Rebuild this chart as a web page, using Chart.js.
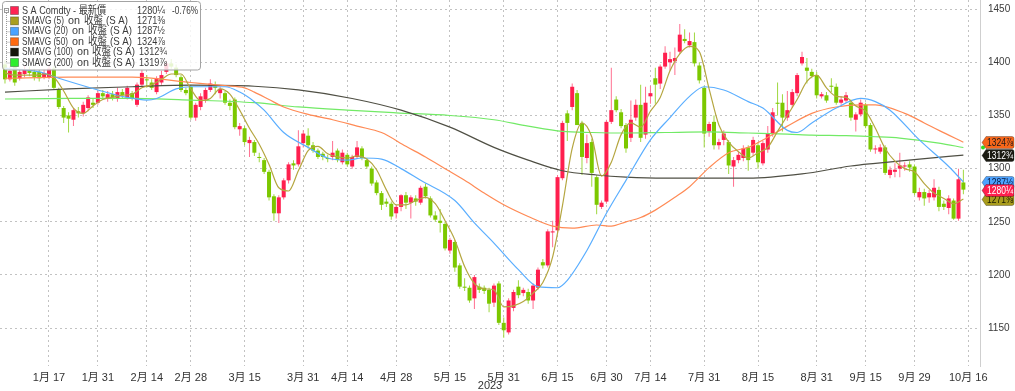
<!DOCTYPE html>
<html>
<head>
<meta charset="utf-8">
<script src="https://cdn.jsdelivr.net/npm/chart.js"></script>
<style>
html,body{margin:0;padding:0;background:#fff;}
#wrap{position:relative;width:1015px;height:391px;}
</style>
</head>
<body>
<div id="wrap"><canvas id="c"></canvas></div>
<script>
// ---------- DATA ----------
const dates = [
 '1/3','1/4','1/5','1/6','1/9','1/10','1/11','1/12','1/13','1/17','1/18','1/19','1/20','1/23','1/24','1/25','1/26','1/27','1/30','1/31',
 '2/1','2/2','2/3','2/6','2/7','2/8','2/9','2/10','2/13','2/14','2/15','2/16','2/17','2/21','2/22','2/23','2/24','2/27','2/28',
 '3/1','3/2','3/3','3/6','3/7','3/8','3/9','3/10','3/13','3/14','3/15','3/16','3/17','3/20','3/21','3/22','3/23','3/24','3/27','3/28','3/29','3/30','3/31',
 '4/3','4/4','4/5','4/6','4/10','4/11','4/12','4/13','4/14','4/17','4/18','4/19','4/20','4/21','4/24','4/25','4/26','4/27','4/28',
 '5/1','5/2','5/3','5/4','5/5','5/8','5/9','5/10','5/11','5/12','5/15','5/16','5/17','5/18','5/19','5/22','5/23','5/24','5/25','5/26','5/30','5/31',
 '6/1','6/2','6/5','6/6','6/7','6/8','6/9','6/12','6/13','6/14','6/15','6/16','6/20','6/21','6/22','6/23','6/26','6/27','6/28','6/29','6/30',
 '7/3','7/5','7/6','7/7','7/10','7/11','7/12','7/13','7/14','7/17','7/18','7/19','7/20','7/21','7/24','7/25','7/26','7/27','7/28','7/31',
 '8/1','8/2','8/3','8/4','8/7','8/8','8/9','8/10','8/11','8/14','8/15','8/16','8/17','8/18','8/21','8/22','8/23','8/24','8/25','8/28','8/29','8/30','8/31',
 '9/1','9/5','9/6','9/7','9/8','9/11','9/12','9/13','9/14','9/15','9/18','9/19','9/20','9/21','9/22','9/25','9/26','9/27','9/28','9/29',
 '10/2','10/3','10/4','10/5','10/6','10/9','10/10','10/11','10/12','10/13','10/16'
];

const open = [
 1398,1384,1396,1385,1389,1393,1391,1391,1386,1386, 1394,1374,1357,1350,1346,1354,1352,1357,1362,1362,
 1371,1366,1370,1366,1372,1367,1371,1360,1379,1384, 1381,1372,1381,1391,1399,1395,1386,1374,1377,1348,
 1358,1365,1374,1378,1371,1371,1362,1365,1337,1338, 1324,1325,1311,1308,1297,1274,1258,1273,1289,1305,
 1304,1324,1331,1322,1317,1314,1310,1311,1317,1306, 1313,1302,1311,1319,1308,1300,1287,1277,1269,1267,
 1258,1264,1275,1268,1272,1268,1283,1272,1256,1251, 1248,1223,1231,1209,1189,1188,1178,1189,1188,1186,
 1174,1192,1155,1146,1169,1189,1183,1184,1176,1188, 1212,1209,1240,1242,1291,1352,1358,1371,1343,1310,
 1325,1292,1264,1269,1344,1365,1353,1341,1329,1348, 1360,1332,1368,1385,1380,1396,1400,1401,1410,1422,
 1416,1419,1397,1376,1335,1344,1322,1327,1325,1302, 1308,1310,1320,1315,1322,1305,1318,1333,1362,1362,
 1348,1360,1371,1399,1395,1391,1388,1368,1369,1378, 1377,1362,1364,1362,1346,1351,1360,1341,1318,1316,
 1320,1294,1297,1300,1302,1304,1302,1273,1278,1273, 1273,1280,1267,1263,1270,1253,1287
];
const high = [
 1402,1396,1399,1394,1397,1396,1394,1393,1394,1398, 1396,1376,1359,1353,1357,1358,1363,1369,1366,1373,
 1374,1373,1373,1376,1375,1378,1373,1381,1393,1388, 1384,1387,1392,1402,1403,1398,1388,1376,1379,1362,
 1371,1376,1384,1382,1377,1373,1365,1367,1343,1340, 1330,1327,1315,1310,1299,1276,1275,1291,1306,1308,
 1336,1336,1338,1325,1319,1316,1313,1326,1319,1318, 1315,1313,1326,1321,1310,1302,1289,1279,1272,1269,
 1266,1276,1278,1275,1275,1284,1286,1274,1260,1262, 1250,1235,1233,1211,1197,1190,1200,1192,1190,1188,
 1192,1194,1160,1178,1186,1195,1188,1187,1192,1207, 1215,1243,1251,1294,1345,1355,1380,1374,1345,1332,
 1328,1294,1270,1346,1395,1368,1356,1343,1364,1365, 1379,1377,1378,1395,1398,1415,1410,1414,1436,1431,
 1428,1428,1400,1378,1344,1350,1328,1336,1327,1311, 1316,1322,1322,1330,1325,1326,1340,1357,1381,1370,
 1373,1375,1390,1410,1404,1394,1391,1372,1372,1385, 1380,1368,1372,1365,1353,1365,1362,1343,1322,1323,
 1322,1302,1305,1315,1306,1307,1304,1282,1281,1280, 1290,1283,1270,1275,1272,1300,1299
];
const low = [
 1380,1382,1378,1383,1386,1387,1383,1382,1384,1384, 1374,1356,1343,1334,1340,1348,1349,1354,1357,1360,
 1365,1363,1364,1363,1366,1365,1364,1358,1377,1376, 1374,1370,1379,1389,1394,1386,1372,1369,1346,1345,
 1355,1362,1372,1370,1366,1360,1355,1337,1331,1322, 1311,1312,1306,1295,1270,1251,1249,1271,1286,1299,
 1302,1320,1319,1315,1309,1308,1306,1308,1306,1304, 1302,1300,1309,1308,1300,1284,1275,1261,1264,1252,
 1253,1260,1262,1253,1265,1266,1272,1254,1250,1240, 1223,1220,1203,1187,1185,1174,1168,1183,1182,1165,
 1170,1153,1141,1144,1166,1178,1180,1173,1168,1186, 1206,1207,1226,1240,1289,1326,1355,1341,1294,1305,
 1283,1257,1262,1267,1342,1353,1338,1315,1325,1345, 1325,1328,1361,1361,1375,1394,1392,1388,1408,1418,
 1414,1396,1380,1320,1330,1318,1318,1322,1295,1283, 1305,1307,1298,1312,1300,1303,1315,1330,1350,1335,
 1345,1357,1368,1397,1380,1385,1366,1366,1362,1372, 1360,1360,1362,1345,1335,1349,1338,1316,1314,1314,
 1294,1291,1292,1292,1298,1297,1275,1270,1265,1268, 1270,1260,1261,1257,1252,1251,1276
];
const close = [
 1384,1392,1381,1391,1393,1390,1386,1385,1390,1394, 1376,1358,1348,1347,1355,1352,1360,1367,1360,1371,
 1368,1370,1367,1372,1369,1376,1366,1379,1390,1383, 1376,1385,1388,1399,1396,1388,1374,1371,1348,1360,
 1368,1374,1380,1376,1375,1362,1359,1339,1340,1325, 1327,1315,1310,1297,1273,1258,1273,1289,1304,1303,
 1321,1333,1322,1317,1311,1311,1309,1315,1308,1315, 1304,1311,1320,1310,1302,1286,1277,1266,1267,1255,
 1264,1275,1268,1273,1269,1282,1274,1256,1252,1249, 1225,1233,1207,1189,1188,1176,1198,1186,1185,1173,
 1190,1155,1148,1176,1184,1181,1186,1176,1190,1205, 1209,1241,1241,1292,1343,1343,1377,1341,1311,1324,
 1296,1266,1268,1344,1355,1355,1340,1319,1346,1360, 1329,1362,1371,1379,1396,1409,1403,1404,1426,1420,
 1420,1399,1383,1333,1342,1322,1325,1333,1303,1308, 1313,1319,1308,1327,1306,1324,1333,1353,1361,1348,
 1355,1372,1388,1405,1392,1387,1369,1370,1364,1377, 1362,1365,1369,1348,1351,1362,1340,1318,1319,1320,
 1296,1299,1299,1303,1303,1301,1277,1278,1272,1277, 1282,1264,1264,1272,1253,1290,1280.25
];

// moving averages (day index, value)
const sma5Days = [0,2,4,6,8,10,12,14,16,18,20,22,24,26,28,30,32,34,36,38,40,42,44,46,48,50,52,54,56,58,60,62,64,66,68,70,72,74,76,78,80,82,84,86,88,90,92,94,96,98,100,102,104,106,108,110,112,114,116,118,120,122,124,126,128,130,132,134,136,138,140,142,144,146,148,150,152,154,156,158,160,162,164,166,168,170,172,174,176,178,180,182,184,186,188,190,192,194,196];
const sma5 = [1390,1388,1388,1388,1389,1386,1373,1357,1352,1359,1365,1367,1369,1370,1376,1379,1384,1389,1389,1375,1364,1366,1375,1370,1355,1338,1323,1304,1282,1279,1298,1317,1321,1314,1311,1310,1312,1309,1299,1280,1266,1266,1270,1273,1267,1251,1233,1208,1192,1187,1186,1170,1171,1175,1183,1193,1217,1265,1319,1343,1330,1293,1306,1332,1343,1339,1354,1367,1392,1408,1415,1410,1375,1341,1325,1316,1310,1315,1320,1335,1350,1365,1382,1388,1376,1368,1367,1359,1354,1338,1319,1307,1300,1297,1286,1277,1272,1267,1271.4];

const sma20Days = [0,7,11,19,25,29,31,35,38,45,48,51,53,57,62,66,70,73,77,81,85,92,96,100,105,109,113,115,119,123,127,132,136,140,143,147,152,155,160,162,165,170,175,178,181,187,193,196];
const sma20 = [1394.5,1391,1385,1374,1367,1364.5,1366,1375,1377,1377,1372,1363,1355,1334,1320,1310,1308,1310,1309,1300,1289,1270,1249,1230,1205,1189,1188,1195,1223,1258,1289,1327,1348,1368,1377,1374,1363,1357,1336,1334,1343,1357,1366,1363,1355,1327,1302,1287.5];

const sma50Days = [0,13,26,38,45,49,51,54,57,62,67,72,77,82,86,90,94,98,102,107,112,116,121,124,127,130,133,137,140,144,148,152,155,160,165,170,175,178,184,188,191,196];
const sma50 = [1385,1386,1386,1381,1378,1376,1372,1365,1358,1351,1346,1340,1334,1321,1311,1300,1289,1277,1266,1255,1246,1244,1247,1246,1250,1254,1261,1273,1283,1301,1315,1320,1327,1340,1352,1358,1360,1360,1352,1343,1336,1324.875];

const sma100Days = [0,13,26,38,51,60,71,81,91,100,107,114,121,127,135,142,152,163,173,178,187,196];
const sma100 = [1372,1375,1377,1378.5,1377.5,1374,1366,1355,1339,1320,1308,1298,1294,1292,1291,1291,1291,1295,1302.5,1305,1309,1312.75];

const sma200Days = [0,13,26,38,51,60,70,80,91,100,107,114,120,127,135,144,152,160,165,172,178,183,191,196];
const sma200 = [1365.5,1366,1366,1364.5,1362,1358,1355,1352.5,1350,1346,1340,1335,1334,1333.5,1334,1334.5,1333.5,1332.5,1331.6,1331,1330,1328.7,1324,1319.875];

const tickDates = ['1/17','1/31','2/14','2/28','3/15','3/31','4/14','4/28','5/15','5/31','6/15','6/30','7/14','7/31','8/15','8/31','9/15','9/29','10/16'];
const tickLabels = ['1月 17','1月 31','2月 14','2月 28','3月 15','3月 31','4月 14','4月 28','5月 15','5月 31','6月 15','6月 30','7月 14','7月 31','8月 15','8月 31','9月 15','9月 29','10月 16'];
const yTicks = [1150,1200,1250,1300,1350,1400,1450];
const yearLabel = '2023';

const legendNames = ['S A Comdty - 最新價','SMAVG (5)','SMAVG (20)','SMAVG (50)','SMAVG (100)','SMAVG (200)'];
const legendValues = ['1280¼','1271⅜','1287½','1324⅞','1312¾','1319⅞'];
const legendChange = '-0.76%';
const legendOn = 'on';
const legendField = '收盤';
const legendTicker = '(S A)';

const tagValues = [1324.875, 1312.75, 1287.5, 1271.375, 1280.25];
const tagTexts  = ['1324⅞','1312¾','1287½','1271⅜','1280¼'];
const sma200Last = 1319.875;

// ---------- STYLE ----------
const RED = '#ff1f4e', GREEN = '#7cc800';
const RED_WICK = '#ff7090', GREEN_WICK = '#9fd840';
const C_SMA5 = '#b5a640', C_SMA20 = '#5aaeff', C_SMA50 = '#ff8a55', C_SMA100 = '#4f4f44', C_SMA200 = '#72ea66';
const legendColors = ['#ff2352','#a99e1f','#4aa3ff','#ff6a10','#16160a','#2eee2e'];
const tagFill = ['#f7661a','#1a1a12','#4da3ff','#a89c1c','#ff1f4e'];
const tagText = ['#1a1a1a','#ffffff','#0a1a40','#1a1a00','#ffffff'];
const NARROW = '"Liberation Sans Narrow","Arial Narrow","Liberation Sans","Noto Sans CJK TC",sans-serif';
const SANS = '"Liberation Sans",Arial,"Noto Sans CJK TC",sans-serif';

const tickIdx = tickDates.map(d => dates.indexOf(d));
const isUp = i => close[i] >= open[i];
const pts = (days, vals) => days.map((d, k) => ({x: d, y: vals[k]}));

const overlay = {
  id: 'overlay',
  afterDraw(chart) {
    const {ctx, chartArea, scales} = chart;
    const y = scales.y;
    ctx.save();
    // year label
    ctx.font = '11px ' + NARROW;
    ctx.fillStyle = '#333';
    ctx.textAlign = 'center';
    ctx.textBaseline = 'middle';
    ctx.fillText(yearLabel, (chartArea.left + chartArea.right) / 2, 386);

    // SMA200 marker
    ctx.fillStyle = '#2edd22';
    ctx.beginPath();
    ctx.arc(chartArea.right + 3, y.getPixelForValue(sma200Last), 2, 0, Math.PI * 2);
    ctx.fill();

    // last-value tags
    const x0 = chartArea.right + 2, x1 = 1014;
    ctx.font = '10.5px ' + NARROW;
    ctx.textAlign = 'left';
    tagValues.forEach((v, k) => {
      const py = Math.round(y.getPixelForValue(v)) + 0.5;
      ctx.beginPath();
      ctx.moveTo(x0, py);
      ctx.lineTo(x0 + 4, py - 6);
      ctx.lineTo(x1 - 2, py - 6);
      ctx.quadraticCurveTo(x1, py - 6, x1, py - 4);
      ctx.lineTo(x1, py + 4);
      ctx.quadraticCurveTo(x1, py + 6, x1 - 2, py + 6);
      ctx.lineTo(x0 + 4, py + 6);
      ctx.closePath();
      ctx.fillStyle = tagFill[k];
      ctx.fill();
      ctx.strokeStyle = 'rgba(0,0,0,0.35)';
      ctx.lineWidth = 0.8;
      ctx.stroke();
      ctx.fillStyle = tagText[k];
      ctx.fillText(tagTexts[k], x0 + 5, py + 0.5, x1 - x0 - 6);
    });

    // legend box
    const bx = 2.5, by = 1.5, bw = 198, bh = 68.5;
    ctx.beginPath();
    ctx.roundRect(bx, by, bw, bh, 3);
    ctx.fillStyle = 'rgba(255,255,255,0.82)';
    ctx.fill();
    ctx.strokeStyle = '#a3a3a3';
    ctx.lineWidth = 1;
    ctx.stroke();

    const rowY = k => 10.5 + k * 10.4;
    // tree connector
    ctx.strokeStyle = '#9a9a9a';
    ctx.setLineDash([1, 1]);
    ctx.beginPath();
    ctx.moveTo(6.5, 13); ctx.lineTo(6.5, rowY(5));
    for (let k = 1; k < legendNames.length; k++) { ctx.moveTo(6.5, rowY(k) + 0.5); ctx.lineTo(10, rowY(k) + 0.5); }
    ctx.stroke();
    ctx.setLineDash([]);
    ctx.fillStyle = '#fff';
    ctx.fillRect(4.5, 8.5, 4, 4);
    ctx.strokeRect(4.5, 8.5, 4, 4);
    ctx.beginPath(); ctx.moveTo(5.5, 10.5); ctx.lineTo(7.5, 10.5); ctx.stroke();

    ctx.font = '11px ' + NARROW;
    ctx.textAlign = 'left';
    ctx.textBaseline = 'middle';
    const onX = [0, 68, 72, 72, 77, 77];
    const fieldX = [0, 84, 88, 88, 92, 92];
    const tickerX = [0, 106, 110, 110, 113, 113];
    const valX = [137, 137, 137, 137, 139, 139];
    legendNames.forEach((name, k) => {
      const cy = rowY(k);
      ctx.fillStyle = legendColors[k];
      ctx.fillRect(10.5, cy - 4, 8, 8);
      ctx.strokeStyle = 'rgba(0,0,0,0.3)';
      ctx.strokeRect(10.5, cy - 4, 8, 8);
      ctx.fillStyle = '#3a3a3a';
      if (k === 0) {
        ctx.fillText(name, 22, cy, 84);
        ctx.fillText(legendChange, 172, cy, 26);
      } else {
        ctx.fillText(name, 22, cy, onX[k] - 26);
        ctx.fillText(legendOn, onX[k], cy, 12);
        ctx.fillText(legendField, fieldX[k], cy, 19);
        ctx.fillText(legendTicker, tickerX[k], cy, 22);
      }
      ctx.fillText(legendValues[k], valX[k], cy, 28);
    });
    ctx.restore();
  }
};

new Chart(document.getElementById('c'), {
  type: 'bar',
  data: {
    datasets: [
      {type: 'line', data: pts(sma5Days, sma5), borderColor: C_SMA5, borderWidth: 1.2, pointRadius: 0, cubicInterpolationMode: 'monotone', order: 1},
      {type: 'line', data: pts(sma20Days, sma20), borderColor: C_SMA20, borderWidth: 1.2, pointRadius: 0, cubicInterpolationMode: 'monotone', order: 1},
      {type: 'line', data: pts(sma50Days, sma50), borderColor: C_SMA50, borderWidth: 1.2, pointRadius: 0, cubicInterpolationMode: 'monotone', order: 1},
      {type: 'line', data: pts(sma100Days, sma100), borderColor: C_SMA100, borderWidth: 1.2, pointRadius: 0, cubicInterpolationMode: 'monotone', order: 1},
      {type: 'line', data: pts(sma200Days, sma200), borderColor: C_SMA200, borderWidth: 1.2, pointRadius: 0, cubicInterpolationMode: 'monotone', order: 1},
      {type: 'bar', data: close.map((c, i) => ({x: i, y: [low[i], high[i]]})),
       backgroundColor: ctx => isUp(ctx.dataIndex) ? RED_WICK : GREEN_WICK,
       barThickness: 1, grouped: false, borderWidth: 0, inflateAmount: 0, order: 3},
      {type: 'bar', data: close.map((c, i) => ({x: i, y: [open[i], c]})),
       backgroundColor: ctx => isUp(ctx.dataIndex) ? RED : GREEN,
       barThickness: 4, grouped: false, borderWidth: 0, inflateAmount: 0, order: 2}
    ]
  },
  options: {
    responsive: true,
    maintainAspectRatio: false,
    animation: false,
    events: [],
    layout: {padding: 0},
    plugins: {legend: {display: false}, tooltip: {enabled: false}},
    scales: {
      x: {
        type: 'linear', min: -1.02, max: 199.4, offset: false,
        grid: {offset: false, color: '#c2c2c2', lineWidth: 1, drawTicks: false},
        border: {display: false, dash: [2, 3]},
        afterBuildTicks: s => { s.ticks = tickIdx.map(v => ({value: v})); },
        afterFit: s => { s.height = 25; s.paddingLeft = 0; s.paddingRight = 0; },
        ticks: {autoSkip: false, maxRotation: 0, minRotation: 0, padding: 5, color: '#333',
                font: {family: NARROW, size: 11}, callback: (v, i) => tickLabels[i]}
      },
      y: {
        type: 'linear', position: 'right', min: 1114.4, max: 1458.6,
        grid: {color: '#c2c2c2', lineWidth: 1, drawTicks: false},
        border: {display: true, color: '#cfcfcf', dash: [2, 3]},
        afterBuildTicks: s => { s.ticks = yTicks.map(v => ({value: v})); },
        afterFit: s => { s.width = 35; s.paddingTop = 0; s.paddingBottom = 0; },
        ticks: {padding: 8, color: '#3a3a3a', font: {family: SANS, size: 10}, callback: v => String(v)}
      }
    }
  },
  plugins: [overlay]
});
</script>
</body>
</html>
